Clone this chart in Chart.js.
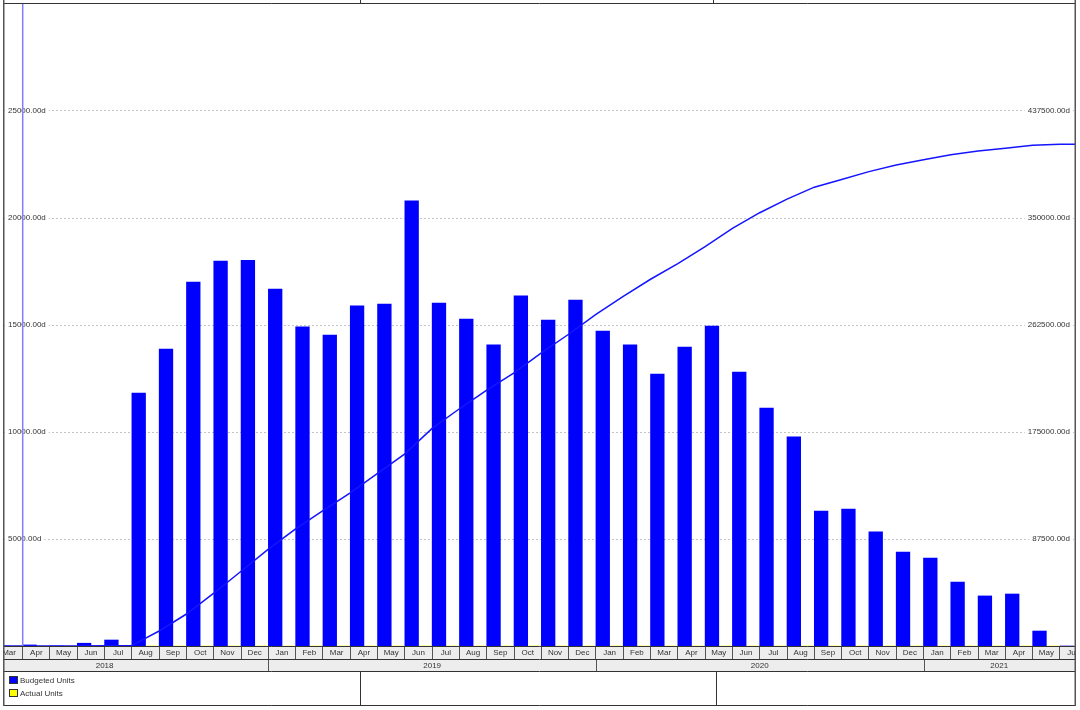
<!DOCTYPE html>
<html>
<head>
<meta charset="utf-8">
<title>Budgeted Units</title>
<script src="https://cdn.jsdelivr.net/npm/chart.js@4.4.1/dist/chart.umd.min.js"></script>
<style>
  html, body { margin: 0; padding: 0; background: #fff; }
  #wrap { width: 1080px; height: 710px; }
</style>
</head>
<body>
<div id="wrap"><canvas id="histogram" width="1080" height="710"></canvas></div>
<script>
// timescale months, Mar 2018 .. Jun 2021 (slot 0 = Mar 2018)
const months = [
    "Mar", "Apr", "May", "Jun", "Jul", "Aug", "Sep", "Oct", "Nov", "Dec",
    "Jan", "Feb", "Mar", "Apr", "May", "Jun", "Jul", "Aug", "Sep", "Oct", "Nov", "Dec",
    "Jan", "Feb", "Mar", "Apr", "May", "Jun", "Jul", "Aug", "Sep", "Oct", "Nov", "Dec",
    "Jan", "Feb", "Mar", "Apr", "May", "Jun"
];
const years = ["2018", "2019", "2020", "2021"];
// year spans in month slots (2018 starts in January, before the visible range)
const yearStart = [-2.5, 9.5, 21.5, 33.5];
const yearEnd = [9.5, 21.5, 33.5, 45.5];

const budgetedUnits = [
    0, 50, 0, 130, 280, 11820, 13880, 17010, 17990, 18020,
    16680, 14910, 14530, 15890, 15980, 20800, 16030, 15280, 14070, 16360, 15230, 16170,
    14720, 14070, 12710, 13970, 14950, 12800, 11120, 9770, 6310, 6400, 5330, 4390,
    4110, 2990, 2340, 2430, 700, 0
];
const actualUnits = [
    0, 0, 0, 0, 0, 0, 0, 0, 0, 0,
    0, 0, 0, 0, 0, 0, 0, 0, 0, 0, 0, 0,
    0, 0, 0, 0, 0, 0, 0, 0, 0, 0, 0, 0,
    0, 0, 0, 0, 0, 0
];
// cumulative budgeted units at each month boundary, start of Mar 2018 first
const cumulativeUnits = [
    0,
    0, 50, 50, 180, 460, 12280, 26160, 43170, 61160, 79180,
    95860, 110770, 125300, 141190, 157170, 177970, 194000, 209280, 223350, 239710, 254940, 271110,
    285830, 299900, 312610, 326580, 341530, 354330, 365450, 375220, 381530, 387930, 393260, 397650,
    401760, 404750, 407090, 409520, 410220, 410220
];

const leftTicks = [0, 5000, 10000, 15000, 20000, 25000, 30000];
const rightTicks = [0, 87500, 175000, 262500, 350000, 437500, 525000];

// visible slot range and data date (Mar/Apr 2018 boundary)
const firstSlot = -0.185;
const lastSlot = 39.05;
const dataDate = 0.5;

Chart.defaults.font.family = "'Liberation Sans', Arial, sans-serif";
Chart.defaults.font.size = 8;
Chart.defaults.color = "#333";

function hLine(ctx, x0, x1, y) {
    ctx.beginPath();
    ctx.moveTo(x0, y);
    ctx.lineTo(x1, y);
    ctx.stroke();
}

function vLine(ctx, x, y0, y1) {
    ctx.beginPath();
    ctx.moveTo(x, y0);
    ctx.lineTo(x, y1);
    ctx.stroke();
}

// mirrored value axes sit inside the plot, so they take no room
function flatAxis(scale) {
    scale.width = 0;
    scale.paddingTop = 0;
    scale.paddingBottom = 0;
}

const timescale = {
    id: "timescale",
    beforeDraw(chart) {
        const ctx = chart.ctx;
        const a = chart.chartArea;
        const x = chart.scales.x;
        ctx.save();
        ctx.fillStyle = "#fff";
        ctx.fillRect(0, 0, chart.width, chart.height);
        // month row background
        ctx.fillStyle = "#ededed";
        ctx.fillRect(a.left, a.bottom, a.right - a.left, x.bottom - a.bottom);
        // keep the cut-off month labels inside the frame
        ctx.beginPath();
        ctx.rect(a.left, 0, a.right - a.left, chart.height);
        ctx.clip();
    },
    afterDraw(chart) {
        const ctx = chart.ctx;
        const a = chart.chartArea;
        const x = chart.scales.x;
        ctx.restore();

        const rowTop = x.bottom;
        const rowBottom = rowTop + 12;
        const boxBottom = 705;

        ctx.save();
        // data date line
        ctx.strokeStyle = "#8080ff";
        ctx.lineWidth = 1.5;
        vLine(ctx, x.getPixelForValue(dataDate), a.top, a.bottom);

        // year row
        ctx.fillStyle = "#ededed";
        ctx.fillRect(a.left, rowTop, a.right - a.left, rowBottom - rowTop);
        ctx.strokeStyle = "#555";
        ctx.lineWidth = 1;
        ctx.fillStyle = "#333";
        ctx.font = "8px 'Liberation Sans', Arial, sans-serif";
        ctx.textAlign = "center";
        ctx.textBaseline = "middle";
        years.forEach(function (yr, i) {
            const x0 = x.getPixelForValue(yearStart[i]);
            const x1 = x.getPixelForValue(Math.min(yearEnd[i], x.max));
            if (x0 > a.left + 1) {
                vLine(ctx, Math.round(x0) + 0.5, rowTop, rowBottom);
            }
            ctx.fillText(yr, (x0 + x1) / 2, rowTop + 6.5);
        });

        // frame
        ctx.strokeStyle = "#333";
        hLine(ctx, a.left, a.right, a.bottom + 0.5);
        hLine(ctx, a.left, a.right, rowTop + 0.5);
        hLine(ctx, a.left, a.right, rowBottom + 0.5);
        hLine(ctx, a.left, a.right, boxBottom + 0.5);
        hLine(ctx, a.left, a.right, 3.5);
        vLine(ctx, 360.5, 0, 3.5);
        vLine(ctx, 713.5, 0, 3.5);
        vLine(ctx, 360.5, rowBottom, boxBottom);
        vLine(ctx, 716.5, rowBottom, boxBottom);
        ctx.strokeStyle = "#555";
        ctx.lineWidth = 1.5;
        vLine(ctx, a.left - 0.25, 0, boxBottom + 1);
        vLine(ctx, a.right + 0.25, 0, boxBottom + 1);

        // legend
        ctx.lineWidth = 1;
        ctx.textAlign = "left";
        chart.data.datasets.filter(function (d) { return d.type !== "line"; }).forEach(function (d, i) {
            const yy = rowBottom + 5 + i * 13;
            ctx.fillStyle = d.backgroundColor;
            ctx.fillRect(9, yy, 9, 8);
            ctx.strokeStyle = "#333";
            ctx.strokeRect(9.5, yy + 0.5, 8, 7);
            ctx.fillStyle = "#333";
            ctx.fillText(d.label, 20, yy + 4.5);
        });
        ctx.restore();
    }
};

const ctx = document.getElementById("histogram").getContext("2d");
new Chart(ctx, {
    type: "bar",
    data: {
        datasets: [
            {
                type: "line",
                label: "Cumulative Budgeted Units",
                data: cumulativeUnits.map(function (v, i) { return { x: i - 0.5, y: v }; }),
                yAxisID: "y2",
                borderColor: "#1414ff",
                borderWidth: 1.5,
                pointRadius: 0,
                tension: 0,
                order: 0
            },
            {
                label: "Budgeted Units",
                data: budgetedUnits.map(function (v, i) { return { x: i, y: v }; }),
                backgroundColor: "#0000ff",
                borderWidth: 0,
                yAxisID: "y",
                order: 1
            },
            {
                label: "Actual Units",
                data: actualUnits.map(function (v, i) { return { x: i, y: v }; }),
                backgroundColor: "#ffff00",
                borderWidth: 0,
                yAxisID: "y",
                order: 2
            }
        ]
    },
    options: {
        responsive: false,
        animation: false,
        events: [],
        layout: { padding: { top: 4, left: 4, right: 5, bottom: 51 } },
        datasets: { bar: { categoryPercentage: 1, barPercentage: 1 } },
        plugins: { legend: { display: false }, tooltip: { enabled: false } },
        scales: {
            x: {
                type: "linear",
                min: firstSlot,
                max: lastSlot,
                offset: false,
                afterBuildTicks: function (scale) {
                    scale.ticks = months.map(function (m, i) { return { value: i }; });
                },
                afterFit: function (scale) {
                    scale.height = 13;
                    scale.paddingLeft = 0;
                    scale.paddingRight = 0;
                },
                ticks: {
                    autoSkip: false,
                    maxRotation: 0,
                    padding: -11,
                    callback: function (v) { return months[v]; }
                },
                grid: { offset: true, drawOnChartArea: false, drawTicks: true, tickLength: 13, color: "#555" },
                border: { display: false }
            },
            y: {
                position: "left",
                min: leftTicks[0],
                max: leftTicks[leftTicks.length - 1],
                afterBuildTicks: function (scale) {
                    scale.ticks = leftTicks.map(function (v) { return { value: v }; });
                },
                afterFit: flatAxis,
                ticks: {
                    mirror: true,
                    padding: 4,
                    showLabelBackdrop: true,
                    backdropColor: "#fff",
                    backdropPadding: { left: 3, right: 3, top: 1, bottom: 1 },
                    callback: function (v) {
                        if (v === leftTicks[0] || v === leftTicks[leftTicks.length - 1]) return null;
                        return v.toFixed(2) + "d";
                    }
                },
                grid: { drawTicks: false, color: "#c4c4c4" },
                border: { display: false, dash: [2, 2] }
            },
            y2: {
                position: "right",
                min: rightTicks[0],
                max: rightTicks[rightTicks.length - 1],
                afterBuildTicks: function (scale) {
                    scale.ticks = rightTicks.map(function (v) { return { value: v }; });
                },
                afterFit: flatAxis,
                ticks: {
                    mirror: true,
                    padding: -5,
                    showLabelBackdrop: true,
                    backdropColor: "#fff",
                    backdropPadding: { left: 3, right: 3, top: 1, bottom: 1 },
                    callback: function (v) {
                        if (v === rightTicks[0] || v === rightTicks[rightTicks.length - 1]) return null;
                        return v.toFixed(2) + "d";
                    }
                },
                grid: { drawOnChartArea: false, drawTicks: false },
                border: { display: false }
            }
        }
    },
    plugins: [timescale]
});
</script>
</body>
</html>
